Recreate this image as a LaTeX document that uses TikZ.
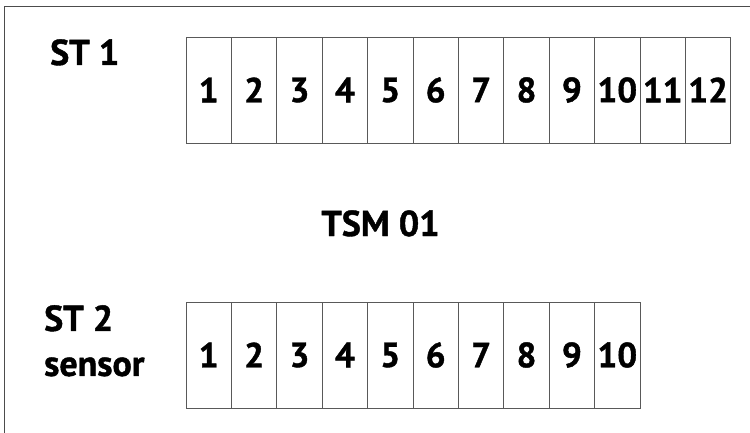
\documentclass[tikz,border=0pt]{standalone}
\usepackage{fontspec}
\setmainfont{PT Sans}[BoldFont={PT Sans Bold}, BoldFeatures={FakeBold=1.2}]
\usepackage{tikz}
\usetikzlibrary{positioning}

\begin{document}
\begin{tikzpicture}[
  x=1pt, y=-1pt,
  cell/.style={draw=black!65, line width=0.9pt, minimum width=45.4pt, minimum height=106pt, inner sep=0pt, outer sep=0pt, font=\fontsize{35}{40}\selectfont\bfseries},
  lbl/.style={inner sep=0pt, font=\fontsize{36}{45}\selectfont\bfseries},
  frame/.style={draw=black!70, line width=1.2pt},
]
\useasboundingbox (0,0) rectangle (750,433);

% Frame
\coordinate (ftr) at (750,6.5);
\coordinate (ftl) at (4.5,6.5);
\coordinate (fbl) at (4.5,433);
\draw[frame] (ftr) -- (ftl) -- (fbl);

% ST 1: twelve cells
\foreach \i in {1,...,12}
  \node[cell] (top\i) at ({186+(\i-0.5)*45.4},90) {\i};
\node[lbl, anchor=base west] (st1) at (50,65) {ST 1};

% Title
\node[lbl, anchor=base] (tsm) at (380.5,236) {TSM 01};

% ST 2: ten cells
\foreach \i in {1,...,10}
  \node[cell] (bot\i) at ({186+(\i-0.5)*45.4},355) {\i};
\node[lbl, align=left, anchor=north west] (st2) at (44,305) {ST 2\\sensor};
\end{tikzpicture}
\end{document}
